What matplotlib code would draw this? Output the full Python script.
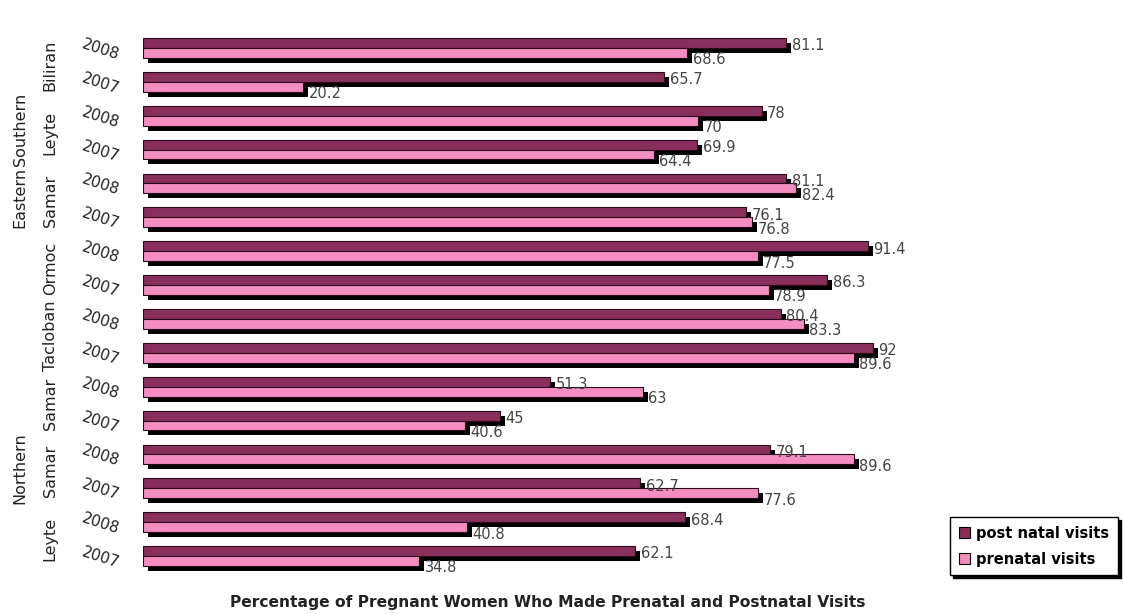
import matplotlib
matplotlib.use("Agg")
import matplotlib.pyplot as plt
import matplotlib.patheffects as pe
import numpy as np

# rows top to bottom
provinces = ["Biliran", "Leyte", "Samar", "Ormoc", "Tacloban", "Samar", "Samar", "Leyte"]
regions = ["", "Southern", "Eastern", "", "", "", "Northern", ""]
years = ["2008", "2007"] * 8
post_natal = [81.1, 65.7, 78, 69.9, 81.1, 76.1, 91.4, 86.3,
              80.4, 92, 51.3, 45, 79.1, 62.7, 68.4, 62.1]
prenatal = [68.6, 20.2, 70, 64.4, 82.4, 76.8, 77.5, 78.9,
            83.3, 89.6, 63, 40.6, 89.6, 77.6, 40.8, 34.8]

dark = "#8a2f5c"
pink = "#f58dc0"

fig = plt.figure(figsize=(11.23, 6.14), dpi=100)
ax = fig.add_axes([0.1273, 0.0668, 0.7062, 0.8827])

y = np.arange(len(years))
h = 0.29
shadow = [pe.SimplePatchShadow(offset=(3.6, -3.6), shadow_rgbFace="black", alpha=1), pe.Normal()]

b1 = ax.barh(y - h / 2, post_natal, height=h, color=dark, edgecolor="#2a0a18", linewidth=0.8,
             label="post natal visits", zorder=2)
b2 = ax.barh(y + h / 2, prenatal, height=h, color=pink, edgecolor="#2a0a18", linewidth=0.8,
             label="prenatal visits", zorder=3)
for b in list(b1) + list(b2):
    b.set_path_effects(shadow)

for i in range(len(years)):
    ax.annotate(f"{post_natal[i]:g}", (post_natal[i], y[i] - h / 2), xytext=(4, -2),
                textcoords="offset points", va="center", ha="left", fontsize=10.5, color="#444444")
    ax.annotate(f"{prenatal[i]:g}", (prenatal[i], y[i] + h / 2), xytext=(4, -5),
                textcoords="offset points", va="center", ha="left", fontsize=10.5, color="#444444")

ax.set_xlim(0, 100)
ax.set_ylim(15.5, -0.5)
ax.axis("off")

tr = ax.get_yaxis_transform()
for i, yr in enumerate(years):
    ax.text(-0.054, y[i] + 0.05, yr, transform=tr, rotation=-18, ha="center", va="center",
            fontsize=11, color="#222222")
for g, (p, r) in enumerate(zip(provinces, regions)):
    yc = 2 * g + 0.5
    ax.text(-0.117, yc, p, transform=tr, rotation=90, ha="center", va="center",
            fontsize=11.5, color="#222222")
    if r:
        ax.text(-0.155, yc - 0.1, r, transform=tr, rotation=90, ha="center", va="center",
                fontsize=11.5, color="#222222")

leg = fig.legend(loc="upper left", bbox_to_anchor=(0.846, 0.158), frameon=True, fancybox=False,
                 edgecolor="black", prop={"weight": "bold", "size": 10.5}, handlelength=0.8,
                 handleheight=0.8, handletextpad=0.4, borderpad=0.6, labelspacing=0.75,
                 borderaxespad=0, shadow={"color": "black", "alpha": 1})
for hnd in leg.legend_handles:
    hnd.set_edgecolor("black")
    hnd.set_path_effects([])

fig.text(0.488, 0.018, "Percentage of Pregnant Women Who Made Prenatal and Postnatal Visits",
         ha="center", va="center", fontsize=11.2, fontweight="bold", color="#222222")

fig.savefig("out.png", dpi=100)
